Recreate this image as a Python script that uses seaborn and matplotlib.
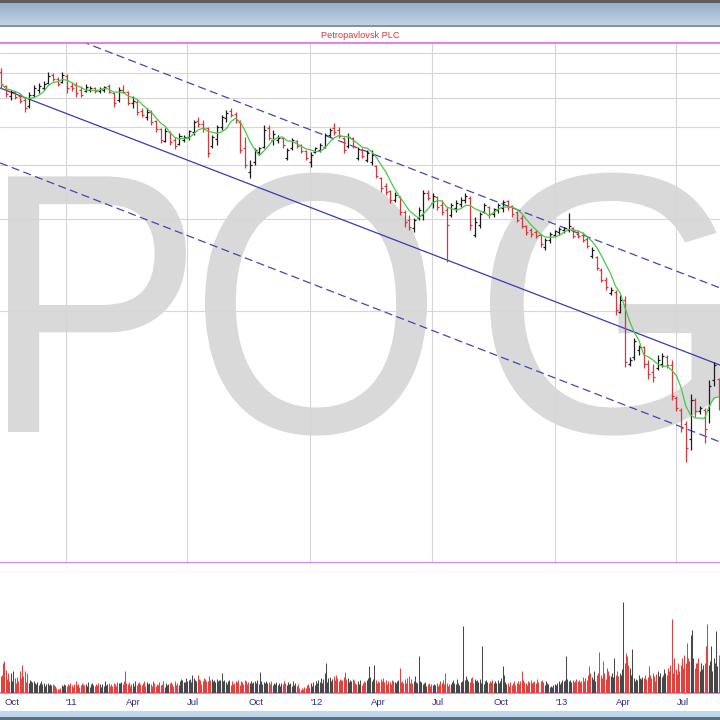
import numpy as np
import pandas as pd
import matplotlib
matplotlib.use("Agg")
import matplotlib.pyplot as plt
from matplotlib.patches import Rectangle, PathPatch
from matplotlib.textpath import TextPath
from matplotlib.font_manager import FontProperties
from matplotlib.transforms import Affine2D
from matplotlib.colors import LinearSegmentedColormap
from matplotlib.ticker import NullLocator, FixedLocator
import matplotlib.dates as mdates
import seaborn as sns

TITLE = "Petropavlovsk PLC"
WATERMARK = "POG"

# ── weekly OHLC (pence), first bar = week of Mon 27 Sep 2010 ──
FIRST_WEEK = "2010-09-27"
opens = [
    1213, 1092, 1013, 1043, 1013, 982, 939, 1020, 1059, 1075,
    1117, 1186, 1151, 1125, 1177, 1092, 1100, 1059, 1051, 1059,
    1075, 1051, 1059, 1092, 1036, 982, 1059, 1043, 960, 968,
    904, 864, 897, 838, 789, 721, 771, 726, 705, 726,
    743, 771, 838, 819, 795, 694, 732, 801, 858, 904,
    884, 832, 684, 570, 615, 663, 689, 795, 726, 726,
    737, 634, 684, 721, 699, 668, 615, 663, 673, 689,
    754, 795, 783, 737, 694, 737, 634, 673, 624, 615,
    597, 546, 513, 494, 462, 473, 422, 397, 374, 404,
    413, 487, 452, 473, 445, 428, 413, 435, 449, 462,
    469, 355, 382, 422, 439, 416, 428, 435, 459, 442,
    422, 404, 379, 368, 363, 355, 324, 342, 355, 363,
    368, 368, 374, 358, 355, 345, 303, 301, 272, 253,
    229, 231, 198, 217, 134, 141, 149, 152, 134, 126,
    130, 134, 141, 133, 104, 95, 85, 76, 102, 94,
    95, 95, 119, 120,
]
highs = [
    1250, 1100, 1059, 1051, 1028, 1005, 1043, 1100, 1117, 1134,
    1213, 1204, 1168, 1213, 1195, 1125, 1125, 1092, 1108, 1092,
    1083, 1083, 1092, 1108, 1043, 1083, 1100, 1051, 1013, 982,
    925, 925, 911, 844, 795, 795, 777, 743, 766, 754,
    783, 844, 864, 844, 801, 754, 813, 877, 911, 925,
    897, 844, 743, 624, 684, 689, 813, 813, 783, 754,
    743, 684, 737, 726, 705, 673, 663, 689, 710, 766,
    795, 826, 801, 743, 766, 743, 689, 684, 673, 673,
    601, 550, 525, 498, 491, 476, 428, 413, 404, 439,
    498, 498, 487, 476, 462, 439, 452, 462, 473, 487,
    476, 407, 422, 452, 442, 435, 452, 462, 462, 445,
    425, 413, 382, 374, 368, 358, 347, 363, 368, 377,
    377, 419, 377, 368, 363, 350, 324, 303, 277, 258,
    240, 234, 226, 224, 141, 163, 155, 154, 138, 134,
    143, 146, 143, 138, 105, 96, 87, 107, 104, 98,
    96, 119, 136, 121,
]
lows = [
    1075, 1005, 982, 990, 960, 897, 925, 1005, 1036, 1059,
    1108, 1134, 1092, 1117, 1036, 1051, 1005, 1005, 1043, 1043,
    1036, 1036, 1043, 1036, 932, 968, 1036, 946, 925, 877,
    864, 844, 813, 771, 710, 715, 699, 679, 699, 715,
    726, 754, 801, 771, 639, 684, 699, 783, 832, 864,
    826, 658, 588, 546, 601, 648, 684, 726, 699, 710,
    684, 624, 673, 684, 658, 624, 592, 658, 663, 684,
    743, 754, 737, 658, 684, 684, 624, 634, 615, 601,
    546, 491, 480, 452, 455, 413, 377, 368, 363, 397,
    397, 462, 435, 428, 413, 290, 407, 422, 439, 452,
    368, 350, 374, 419, 404, 407, 419, 422, 428, 407,
    391, 374, 355, 350, 347, 324, 317, 334, 350, 355,
    360, 363, 347, 347, 337, 322, 299, 272, 249, 234,
    226, 194, 197, 131, 132, 138, 144, 130, 120, 117,
    128, 131, 130, 102, 94, 80, 64, 70, 90, 92,
    74, 86, 114, 95,
]
closes = [
    1108, 1028, 1043, 1005, 975, 925, 1020, 1075, 1092, 1108,
    1177, 1151, 1108, 1186, 1075, 1075, 1036, 1020, 1083, 1075,
    1051, 1067, 1083, 1043, 960, 1059, 1043, 960, 975, 897,
    877, 897, 832, 789, 726, 777, 715, 694, 749, 743,
    777, 832, 819, 795, 658, 743, 801, 864, 891, 877,
    844, 673, 601, 601, 673, 684, 783, 737, 760, 737,
    699, 673, 726, 694, 668, 634, 648, 684, 699, 754,
    783, 771, 749, 673, 743, 694, 679, 643, 658, 648,
    554, 506, 491, 462, 480, 422, 391, 377, 397, 428,
    487, 469, 476, 439, 422, 382, 445, 452, 462, 476,
    382, 391, 416, 445, 416, 432, 445, 455, 439, 416,
    397, 379, 363, 358, 352, 332, 342, 358, 366, 371,
    374, 379, 352, 352, 342, 327, 317, 277, 253, 240,
    234, 201, 217, 136, 138, 159, 152, 134, 124, 122,
    138, 142, 133, 105, 96, 83, 71, 102, 94, 96,
    82, 114, 133, 98,
]
MA_WEEKS = 5

# ── daily volume (millions of shares), first session Mon 27 Sep 2010 ──
volume = [
    1.7, 1.8, 1.2, 3.0, 3.2, 2.3, 1.4, 1.3, 2.0, 1.2,
    1.3, 2.0, 1.2, 1.1, 2.2, 1.5, 1.0, 1.4, 1.6, 1.2,
    2.2, 1.5, 1.0, 2.8, 1.7, 1.2, 2.2, 1.1, 2.0, 1.4,
    1.0, 1.3, 1.2, 0.9, 1.1, 1.2, 0.8, 1.0, 0.9, 1.1,
    0.8, 1.0, 0.7, 1.2, 0.9, 0.8, 1.0, 0.7, 0.9, 0.8,
    1.0, 0.8, 0.9, 0.7, 0.8, 0.9, 0.6, 0.8, 0.7, 0.5,
    0.4, 0.3, 0.4, 0.3, 0.5, 0.8, 0.7, 0.9, 0.6, 0.8,
    0.7, 0.9, 0.6, 0.8, 1.0, 0.7, 0.8, 0.6, 0.9, 0.7,
    1.2, 0.8, 0.7, 0.9, 0.6, 0.8, 1.0, 0.7, 0.9, 0.8,
    0.6, 0.9, 0.7, 1.1, 0.8, 0.6, 0.9, 0.7, 1.0, 0.8,
    0.7, 0.9, 0.6, 0.8, 1.0, 0.7, 0.9, 0.6, 0.8, 0.9,
    0.7, 1.2, 0.8, 0.6, 0.9, 1.0, 0.7, 0.8, 0.9, 0.7,
    1.0, 0.8, 0.9, 0.7, 1.1, 1.0, 0.9, 1.0, 0.8, 1.1,
    0.9, 1.2, 2.2, 1.5, 1.0, 0.9, 0.8, 1.1, 0.7, 0.9,
    1.0, 0.8, 0.7, 1.2, 0.9, 0.8, 1.0, 0.7, 1.1, 0.9,
    0.8, 1.0, 0.9, 1.2, 0.7, 0.8, 1.1, 0.9, 0.6, 1.0,
    0.9, 0.7, 1.2, 0.8, 1.0, 0.7, 0.6, 0.9, 0.8, 1.1,
    0.8, 0.7, 0.9, 1.2, 0.8, 0.6, 1.0, 0.8, 0.7, 0.9,
    1.0, 0.8, 1.1, 0.9, 0.7, 1.2, 0.9, 0.8, 0.7, 1.0,
    0.8, 1.2, 1.4, 1.0, 1.3, 1.1, 1.1, 1.5, 0.9, 1.2,
    1.3, 1.0, 1.4, 1.1, 1.8, 1.5, 1.0, 1.3, 1.2, 1.1,
    1.8, 1.4, 1.0, 1.3, 0.9, 1.2, 1.5, 1.1, 1.4, 1.2,
    1.2, 1.0, 1.7, 1.3, 1.1, 1.4, 1.2, 1.0, 1.3, 1.1,
    1.4, 1.2, 1.0, 1.3, 1.3, 1.1, 2.0, 1.2, 1.0, 1.3,
    1.1, 0.9, 1.2, 1.0, 1.3, 0.8, 1.1, 1.2, 0.9, 1.0,
    1.2, 0.9, 1.1, 1.3, 1.0, 0.8, 1.2, 1.0, 1.1, 0.9,
    1.3, 1.0, 1.2, 0.9, 1.1, 1.0, 0.8, 1.2, 1.0, 1.1,
    0.9, 1.2, 1.0, 1.1, 1.3, 0.9, 2.1, 1.0, 1.2, 0.9,
    1.1, 1.0, 0.9, 1.2, 1.0, 0.8, 1.1, 0.9, 1.0, 1.2,
    0.8, 1.0, 0.9, 0.7, 1.1, 0.8, 1.0, 0.9, 0.7, 1.0,
    0.9, 0.8, 1.2, 0.7, 1.0, 0.8, 1.1, 0.9, 0.8, 1.0,
    0.7, 0.9, 1.2, 0.8, 1.0, 0.7, 0.6, 0.9, 0.5, 0.4,
    0.3, 0.5, 0.4, 0.3, 0.6, 0.5, 0.8, 0.7, 0.9, 0.6,
    0.8, 1.0, 0.7, 0.9, 1.1, 0.8, 1.2, 0.9, 1.0, 1.3,
    1.1, 1.5, 1.2, 1.0, 1.4, 2.0, 3.0, 1.3, 1.1, 1.5,
    1.3, 1.6, 1.2, 1.4, 1.1, 1.7, 1.3, 1.8, 1.2, 1.5,
    1.2, 1.4, 1.1, 1.3, 1.3, 1.6, 1.2, 2.1, 1.4, 1.2,
    1.5, 1.1, 1.3, 1.0, 1.2, 1.4, 1.1, 1.3, 1.0, 0.9,
    1.2, 1.0, 0.9, 1.3, 1.1, 0.8, 1.0, 1.2, 0.9, 1.1,
    1.3, 1.1, 1.5, 2.7, 1.6, 1.2, 1.0, 1.4, 2.8, 1.0,
    1.3, 1.0, 1.2, 0.9, 1.1, 1.4, 1.0, 1.2, 1.5, 1.1,
    1.0, 1.3, 0.9, 1.2, 1.0, 1.1, 0.9, 1.3, 1.0, 1.2,
    1.1, 1.0, 1.2, 1.0, 1.3, 2.5, 1.1, 0.9, 1.2, 1.0,
    1.4, 1.1, 1.0, 1.5, 1.2, 1.7, 1.0, 1.4, 1.1, 1.0,
    1.2, 1.0, 1.7, 1.1, 1.0, 3.7, 2.0, 1.2, 0.9, 1.1,
    0.9, 1.0, 0.8, 1.1, 0.7, 0.9, 1.0, 0.8, 0.7, 0.9,
    0.8, 0.6, 0.9, 0.7, 0.8, 1.0, 0.7, 0.9, 0.8, 1.2,
    1.0, 1.1, 1.3, 0.9, 2.0, 0.8, 1.0, 0.7, 0.9, 0.8,
    0.9, 1.1, 0.8, 1.3, 1.0, 0.9, 1.2, 1.4, 1.0, 0.8,
    1.1, 0.9, 1.2, 1.5, 6.7, 1.3, 1.7, 1.0, 1.4, 1.2,
    1.1, 1.5, 1.3, 1.6, 1.0, 1.4, 1.2, 1.2, 1.3, 1.1,
    1.4, 1.2, 1.0, 4.7, 1.1, 0.9, 1.2, 1.0, 1.3, 1.1,
    1.0, 1.2, 0.9, 1.1, 1.3, 1.0, 0.8, 1.2, 1.0, 0.9,
    1.3, 1.0, 1.2, 1.1, 1.5, 2.7, 1.8, 1.3, 1.1, 0.9,
    0.8, 1.0, 0.7, 0.9, 1.1, 0.8, 1.0, 0.9, 1.2, 0.8,
    1.0, 1.2, 1.1, 0.9, 1.2, 0.8, 2.2, 1.3, 0.9, 1.1,
    1.0, 0.8, 1.2, 0.9, 1.1, 1.3, 1.0, 0.8, 1.1, 1.2,
    0.9, 1.0, 1.4, 1.1, 0.8, 1.2, 1.0, 1.3, 0.9, 1.1,
    0.8, 1.2, 1.0, 0.7, 0.9, 0.6, 0.5, 0.7, 0.6, 0.8,
    0.7, 0.9, 0.8, 1.0, 0.7, 1.2, 0.9, 1.0, 1.1, 1.3,
    1.2, 1.0, 1.3, 3.7, 1.4, 1.0, 1.2, 1.3, 1.1, 1.0,
    1.3, 1.1, 1.2, 1.0, 1.4, 1.2, 1.0, 1.3, 1.1, 1.2,
    1.4, 1.6, 1.2, 1.5, 1.5, 1.3, 1.8, 2.7, 1.4, 2.0,
    1.6, 1.4, 1.3, 2.2, 1.2, 1.8, 1.5, 2.0, 4.1, 1.5,
    1.8, 1.5, 1.7, 3.2, 2.0, 1.4, 2.5, 1.2, 2.2, 1.8,
    1.5, 1.7, 2.0, 1.6, 3.5, 1.8, 1.5, 2.2, 1.3, 1.7,
    2.0, 1.8, 2.4, 2.2, 9.1, 3.0, 4.0, 2.5, 3.7, 2.8,
    2.5, 2.2, 1.8, 4.4, 3.3, 1.5, 1.2, 1.4, 1.1, 1.3,
    1.8, 1.5, 1.2, 1.4, 1.6, 1.3, 1.5, 1.8, 1.4, 1.2,
    1.6, 2.7, 1.3, 1.8, 1.5, 2.0, 1.4, 1.7, 1.2, 1.9,
    1.5, 2.2, 1.7, 1.4, 2.0, 1.6, 1.8, 2.4, 1.5, 2.0,
    1.8, 2.1, 2.5, 2.2, 2.8, 7.4, 2.8, 2.0, 3.5, 3.2,
    2.4, 1.9, 2.6, 3.0, 2.2, 2.8, 3.5, 2.0, 2.5, 3.8,
    3.0, 2.6, 5.0, 3.5, 3.2, 4.0, 5.8, 6.3, 3.0, 3.5,
    2.5, 3.0, 3.0, 2.8, 3.5, 2.2, 2.6, 3.0, 2.4, 2.8,
    3.0, 2.5, 4.7, 3.5, 6.9, 2.8, 3.2, 4.7, 3.0, 2.2,
    3.5, 2.8, 3.0, 6.2, 2.7, 3.8, 2.5, 3.3, 2.6, 3.0,
]
VOLUME_TOP = 13.0

# ── regression channel (log-linear), values at the two chart edges ──
channel_dates = ["2010-09-25", "2013-09-04"]
channel_mid = [1075, 133]
channel_upper = [1936, 238]
channel_lower = [611, 74.5]

# ── axes furniture ──
PRICE_LIMITS = (29.9, 1509)
DATE_LIMITS = ("2010-09-25", "2013-09-04")
grid_prices = [200, 400, 600, 800, 1000, 1200, 1400]
grid_dates = ["2011-01-01", "2011-07-01", "2012-01-01",
              "2012-07-01", "2013-01-01", "2013-07-01"]
tick_dates = ["2010-10-01", "2011-01-01", "2011-04-01", "2011-07-01",
              "2011-10-01", "2012-01-01", "2012-04-01", "2012-07-01",
              "2012-10-01", "2013-01-01", "2013-04-01", "2013-07-01"]
tick_labels = ["Oct", "'11", "Apr", "Jul", "Oct", "'12",
               "Apr", "Jul", "Oct", "'13", "Apr", "Jul"]

UP_COLOR = "#1c1c1c"
DOWN_COLOR = "#d8383a"
MAGENTA = "#e068e6"
GRID = "#d6d6d6"

W = H = 720


def fy(px):
    """pixel row from the top -> figure fraction"""
    return 1 - px / H


sns.set_style("white")
plt.rcParams["font.family"] = ["Liberation Sans", "DejaVu Sans"]

fig = plt.figure(figsize=(7.2, 7.2), dpi=100)
fig.patch.set_facecolor("white")

ax = fig.add_axes([0, fy(563), 1, (563 - 43) / H])
axv = fig.add_axes([0, fy(693), 1, (693 - 563) / H])

# ── price panel ──
bars = pd.DataFrame({
    "date": pd.date_range(FIRST_WEEK, periods=len(closes), freq="7D"),
    "open": opens, "high": highs, "low": lows, "close": closes,
})
bars["ma"] = bars["close"].rolling(MA_WEEKS, min_periods=1).mean()
bar_colors = np.where(bars["close"] >= bars["open"], UP_COLOR, DOWN_COLOR)

ax.set_yscale("log")
tick = pd.Timedelta(days=3)
ax.vlines(bars["date"], bars["low"], bars["high"], colors=bar_colors,
          lw=0.9, zorder=3)
ax.hlines(bars["open"], bars["date"] - tick, bars["date"], colors=bar_colors,
          lw=0.9, zorder=3)
ax.hlines(bars["close"], bars["date"], bars["date"] + tick, colors=bar_colors,
          lw=0.9, zorder=3)
sns.lineplot(data=bars, x="date", y="ma", ax=ax, color="#47c947",
             lw=0.9, zorder=4)

chan = pd.DataFrame({"date": pd.to_datetime(channel_dates), "mid": channel_mid,
                     "upper": channel_upper, "lower": channel_lower})
sns.lineplot(data=chan, x="date", y="mid", ax=ax, color="#3a3ab4",
             lw=0.9, zorder=2.5)
for col in ["upper", "lower"]:
    sns.lineplot(data=chan, x="date", y=col, ax=ax, color="#4646b8",
                 lw=0.9, linestyle=(0, (6.5, 3.5)), zorder=2.5)

# watermark letters, placed in pixel space (left edge, width)
fp = FontProperties(family="Liberation Sans")
letter_left = [8, 205, 490]
letter_width = [178, 222, 232]
for letter, left, width in zip(WATERMARK, letter_left, letter_width):
    tp = TextPath((0, 0), letter, size=1, prop=fp)
    bb = tp.get_extents()
    tr = (Affine2D().translate(-bb.x0, 0).scale(width / bb.width, 371.5)
          .translate(left, H - 432).scale(1 / W, 1 / H) + fig.transFigure)
    ax.add_artist(PathPatch(tp, facecolor="#d9d9d9", edgecolor="none",
                            transform=tr, zorder=0.2))

ax.set_xlim(pd.to_datetime(DATE_LIMITS[0]), pd.to_datetime(DATE_LIMITS[1]))
ax.set_ylim(*PRICE_LIMITS)
ax.set_yticks(grid_prices)
ax.yaxis.set_minor_locator(NullLocator())
ax.set_xticks(pd.to_datetime(grid_dates))
ax.set_axisbelow(True)
ax.grid(True, which="major", color=GRID, lw=0.8)
ax.tick_params(left=False, bottom=False, labelleft=False, labelbottom=False)
ax.set_xlabel("")
ax.set_ylabel("")
ax.set_facecolor("none")
for side in ["left", "right"]:
    ax.spines[side].set_visible(False)
for side in ["top", "bottom"]:
    ax.spines[side].set_color(MAGENTA)
    ax.spines[side].set_linewidth(1.2)

# ── volume panel ──
vol = pd.DataFrame({"date": pd.bdate_range(FIRST_WEEK, periods=len(volume)),
                    "volume": volume})
week_idx = np.minimum(np.arange(len(vol)) // 5, len(bars) - 1)
vol_colors = np.where(bar_colors[week_idx] == UP_COLOR, "#484848", "#e2423e")
axv.vlines(vol["date"], 0, vol["volume"], colors=vol_colors, lw=0.75, zorder=3)

axv.set_xlim(pd.to_datetime(DATE_LIMITS[0]), pd.to_datetime(DATE_LIMITS[1]))
axv.set_ylim(0, VOLUME_TOP)
axv.set_yticks([])
axv.set_xticks(pd.to_datetime(tick_dates))
axv.set_xticklabels(tick_labels)
axv.xaxis.set_minor_locator(FixedLocator(mdates.date2num(pd.to_datetime(grid_dates))))
axv.set_axisbelow(True)
axv.grid(True, which="minor", axis="x", color=GRID, lw=0.8)
axv.grid(False, which="major")
axv.tick_params(which="both", length=0, pad=3.5, labelsize=6.8,
                labelcolor="#2e2e86")
for lab in axv.get_xticklabels():
    lab.set_ha("left")
axv.set_xlabel("")
axv.set_ylabel("")
for side in ["left", "right", "top"]:
    axv.spines[side].set_visible(False)
axv.spines["bottom"].set_color(MAGENTA)
axv.spines["bottom"].set_linewidth(1.2)

# ── window chrome: header gradient, title strip, bottom bar ──
hdr = fig.add_axes([0, fy(25), 1, 22 / H])
hdr.imshow(np.linspace(0, 1, 60).reshape(-1, 1), aspect="auto",
           cmap=LinearSegmentedColormap.from_list("hdr", ["#96aec6", "#c0d4e8"]))
hdr.axis("off")


def band(top, bottom, color):
    fig.add_artist(Rectangle((0, fy(bottom)), 1, (bottom - top) / H,
                             transform=fig.transFigure, facecolor=color,
                             edgecolor="none", zorder=5))


band(0, 3, "#5e5e5e")
band(25, 27, "#8c8f93")
band(711, 717, "#c0d7ec")
band(717, 720, "#587183")

fig.text(0.5, fy(35), TITLE, ha="center", va="center",
         color="#d4363c", fontsize=6.6)

fig.savefig("out.png", dpi=100)
